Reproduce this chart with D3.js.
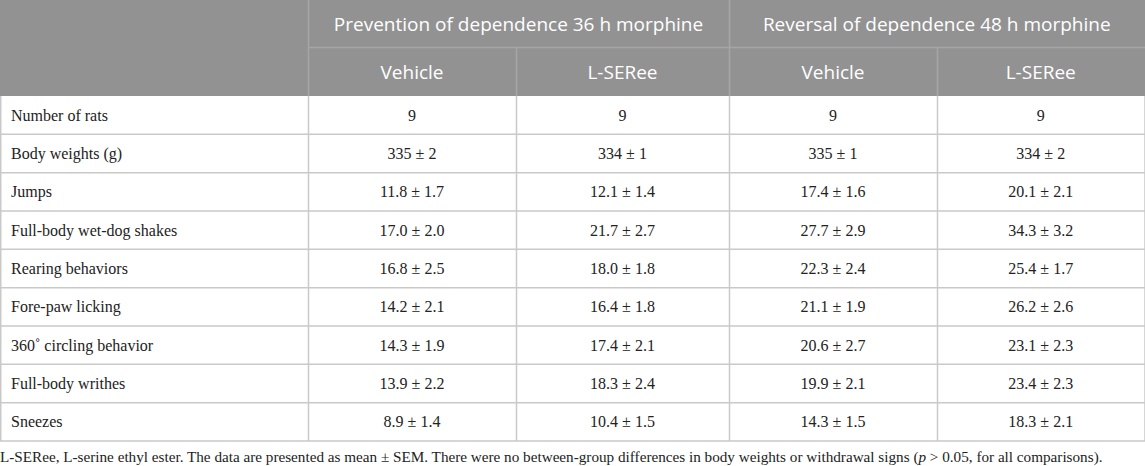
<!DOCTYPE html>
<html>
<head>
<meta charset="utf-8">
<script src="https://cdn.jsdelivr.net/npm/d3@7"></script>
<style>
  html, body { margin: 0; padding: 0; background: #fff; }
  svg { display: block; }
</style>
</head>
<body>
<div id="table"></div>
<script>
// groups and columns
var groups = ["Prevention of dependence 36 h morphine", "Reversal of dependence 48 h morphine"];
var columns = ["Vehicle", "L-SERee", "Vehicle", "L-SERee"];

var rowLabels = [
  "Number of rats",
  "Body weights (g)",
  "Jumps",
  "Full-body wet-dog shakes",
  "Rearing behaviors",
  "Fore-paw licking",
  "360\u02da circling behavior",
  "Full-body writhes",
  "Sneezes"
];

// cell values, one array per column
var prevVehicle = ["9", "335 ± 2", "11.8 ± 1.7", "17.0 ± 2.0", "16.8 ± 2.5", "14.2 ± 2.1", "14.3 ± 1.9", "13.9 ± 2.2", "8.9 ± 1.4"];
var prevSeree   = ["9", "334 ± 1", "12.1 ± 1.4", "21.7 ± 2.7", "18.0 ± 1.8", "16.4 ± 1.8", "17.4 ± 2.1", "18.3 ± 2.4", "10.4 ± 1.5"];
var revVehicle  = ["9", "335 ± 1", "17.4 ± 1.6", "27.7 ± 2.9", "22.3 ± 2.4", "21.1 ± 1.9", "20.6 ± 2.7", "19.9 ± 2.1", "14.3 ± 1.5"];
var revSeree    = ["9", "334 ± 2", "20.1 ± 2.1", "34.3 ± 3.2", "25.4 ± 1.7", "26.2 ± 2.6", "23.1 ± 2.3", "23.4 ± 2.3", "18.3 ± 2.1"];

var footnote = "L-SERee, L-serine ethyl ester. The data are presented as mean ± SEM. There were no between-group differences in body weights or withdrawal signs (";
var footnoteEnd = " > 0.05, for all comparisons).";

var w = 1145, h = 466;
var headH = 96;
var tableBottom = 441;

var valueCols = [prevVehicle, prevSeree, revVehicle, revSeree];

// column edges
var edges = [0, 308, 516, 729, 937, 1144.5];
var colX = function(i) { return edges[i]; };

var y = d3.scaleBand()
  .domain(d3.range(rowLabels.length))
  .range([headH, tableBottom]);

var svg = d3.select("#table")
  .append("svg")
  .attr("width", w)
  .attr("height", h);

var gridColor = "#c9c9c9";
var headFill = "#929292";
var headFont = "'Open Sans', 'Noto Sans', sans-serif";
var bodyFont = "'Liberation Serif', 'Times New Roman', serif";

// header background
svg.append("rect")
  .attr("x", 0).attr("y", 0)
  .attr("width", w).attr("height", headH)
  .attr("fill", headFill);

// header lines
svg.append("line")
  .attr("x1", colX(1)).attr("x2", w)
  .attr("y1", 47.5).attr("y2", 47.5)
  .attr("stroke", "#a6a6a6").attr("stroke-width", 1.5);

svg.selectAll("line.hv")
  .data([1, 3])
  .enter().append("line")
  .attr("class", "hv")
  .attr("x1", function(d){ return colX(d) + 0.5; })
  .attr("x2", function(d){ return colX(d) + 0.5; })
  .attr("y1", 0).attr("y2", headH)
  .attr("stroke", "#a6a6a6").attr("stroke-width", 1.5);

svg.selectAll("line.hv2")
  .data([2, 4])
  .enter().append("line")
  .attr("class", "hv2")
  .attr("x1", function(d){ return colX(d) + 0.5; })
  .attr("x2", function(d){ return colX(d) + 0.5; })
  .attr("y1", 47.5).attr("y2", headH)
  .attr("stroke", "#a6a6a6").attr("stroke-width", 1.5);

// header texts
svg.selectAll("text.group")
  .data(groups)
  .enter().append("text")
  .attr("class", "group")
  .attr("x", function(d, i){ return (colX(1 + i * 2) + colX(3 + i * 2)) / 2; })
  .attr("y", 24)
  .attr("dy", "0.35em")
  .attr("text-anchor", "middle")
  .attr("fill", "#fff")
  .style("font-family", headFont)
  .style("font-size", "19px")
  .text(function(d){ return d; });

svg.selectAll("text.col")
  .data(columns)
  .enter().append("text")
  .attr("class", "col")
  .attr("x", function(d, i){ return (colX(i + 1) + colX(i + 2)) / 2; })
  .attr("y", 72)
  .attr("dy", "0.35em")
  .attr("text-anchor", "middle")
  .attr("fill", "#fff")
  .style("font-family", headFont)
  .style("font-size", "19px")
  .text(function(d){ return d; });

// body grid lines
svg.selectAll("line.row")
  .data(d3.range(rowLabels.length))
  .enter().append("line")
  .attr("class", "row")
  .attr("x1", 0).attr("x2", w)
  .attr("y1", function(d){ return y(d) + y.bandwidth(); })
  .attr("y2", function(d){ return y(d) + y.bandwidth(); })
  .attr("stroke", gridColor).attr("stroke-width", 1.5);

svg.selectAll("line.colv")
  .data(edges)
  .enter().append("line")
  .attr("class", "colv")
  .attr("x1", function(d){ return d + (d === 0 ? 0.75 : 0.5); })
  .attr("x2", function(d){ return d + (d === 0 ? 0.75 : 0.5); })
  .attr("y1", headH).attr("y2", tableBottom)
  .attr("stroke", gridColor).attr("stroke-width", 1.5);

// row labels
svg.selectAll("text.label")
  .data(rowLabels)
  .enter().append("text")
  .attr("class", "label")
  .attr("x", 11)
  .attr("y", function(d, i){ return y(i) + y.bandwidth() / 2; })
  .attr("dy", "0.35em")
  .attr("fill", "#222")
  .style("font-family", bodyFont)
  .style("font-size", "16px")
  .text(function(d){ return d; });

// values
valueCols.forEach(function(col, c) {
  svg.selectAll("text.v" + c)
    .data(col)
    .enter().append("text")
    .attr("class", "v" + c)
    .attr("x", (colX(c + 1) + colX(c + 2)) / 2)
    .attr("y", function(d, i){ return y(i) + y.bandwidth() / 2; })
    .attr("dy", "0.35em")
    .attr("text-anchor", "middle")
    .attr("fill", "#222")
    .style("font-family", bodyFont)
    .style("font-size", "16px")
    .text(function(d){ return d; });
});

// footnote
var fn = svg.append("text")
  .attr("x", 0)
  .attr("y", 457)
  .attr("dy", "0.35em")
  .attr("fill", "#222")
  .style("font-family", bodyFont)
  .style("font-size", "15.2px");
fn.append("tspan").text(footnote);
fn.append("tspan").style("font-style", "italic").text("p");
fn.append("tspan").text(footnoteEnd);
</script>
</body>
</html>
